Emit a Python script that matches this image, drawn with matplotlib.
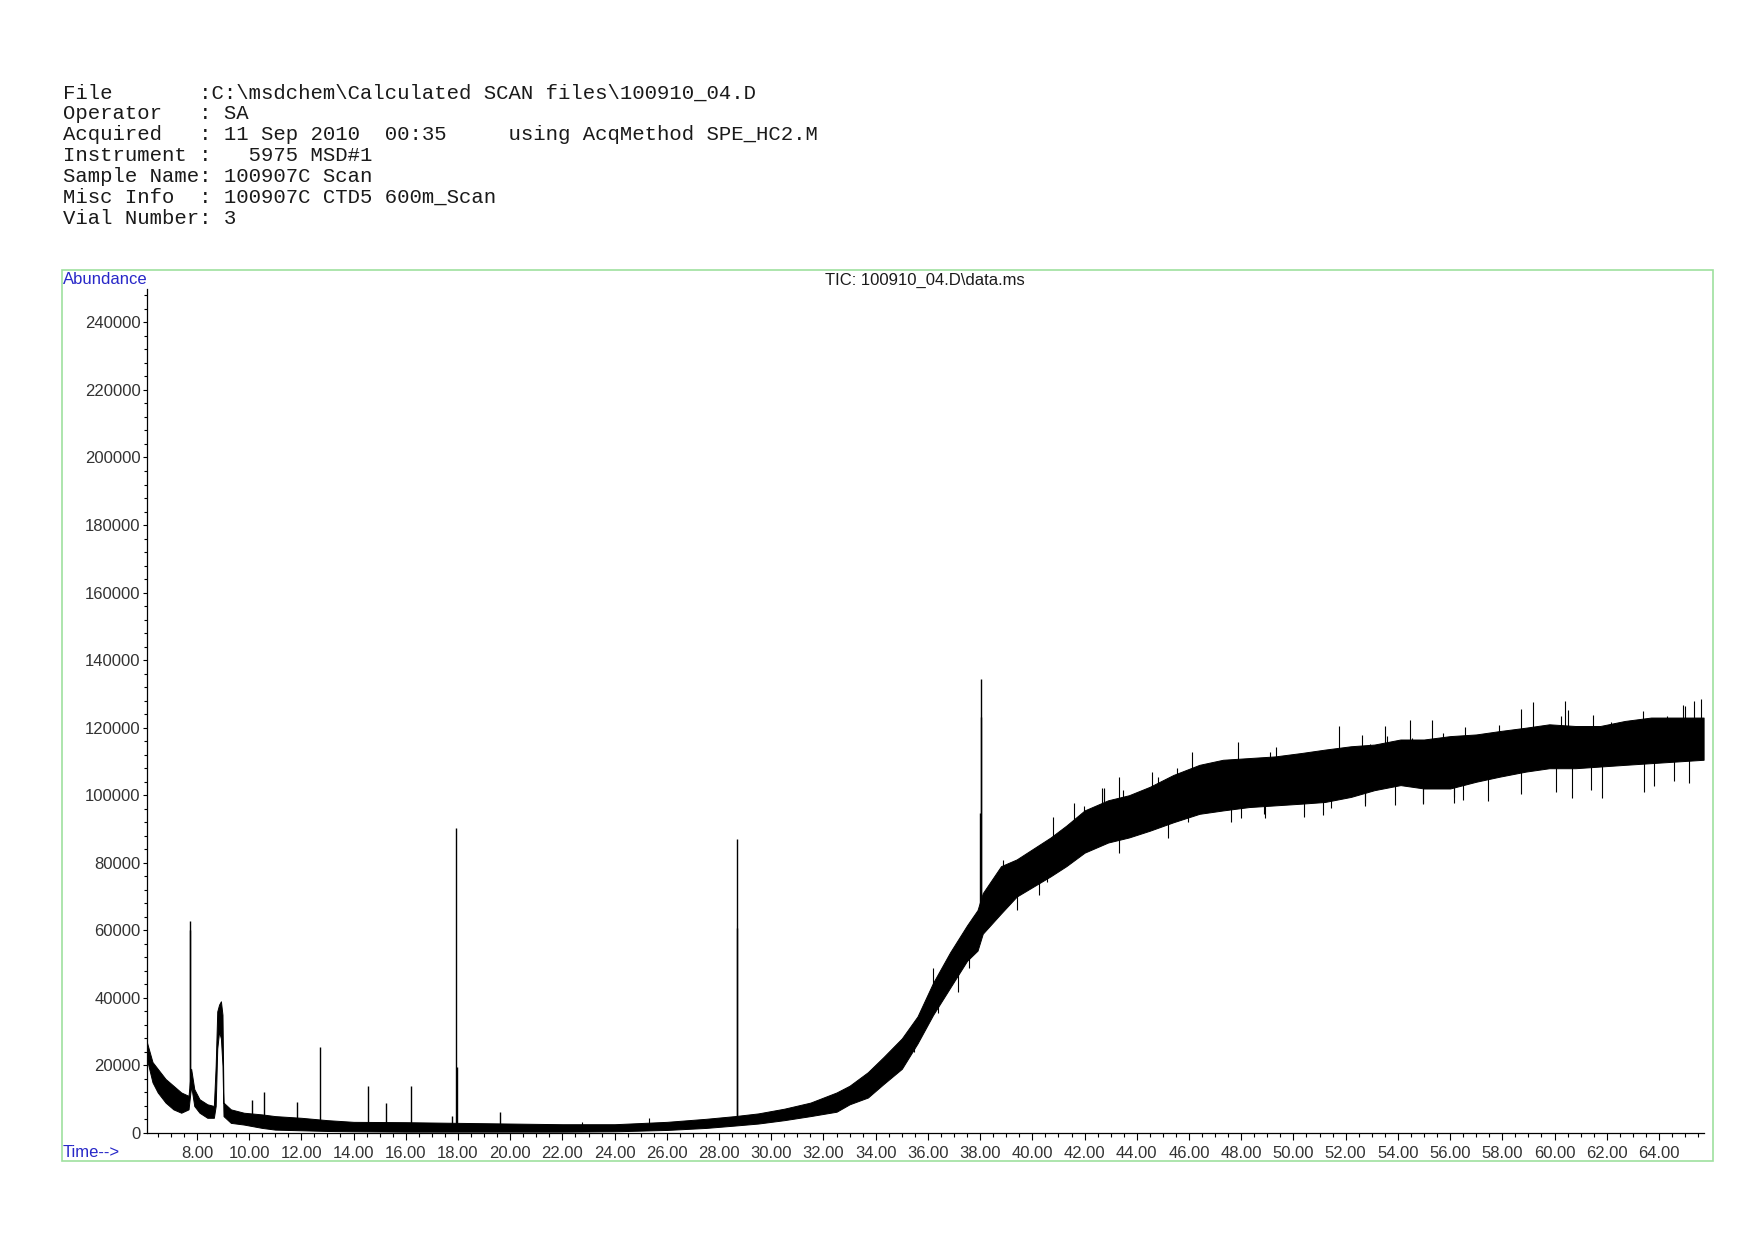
import numpy as np
import matplotlib.pyplot as plt
from matplotlib.patches import Rectangle
from matplotlib.ticker import MultipleLocator, FormatStrFormatter

W, H = 1754, 1240

header_lines = [
    "File       :C:\\msdchem\\Calculated SCAN files\\100910_04.D",
    "Operator   : SA",
    "Acquired   : 11 Sep 2010  00:35     using AcqMethod SPE_HC2.M",
    "Instrument :   5975 MSD#1",
    "Sample Name: 100907C Scan",
    "Misc Info  : 100907C CTD5 600m_Scan",
    "Vial Number: 3",
]
title = "TIC: 100910_04.D\\data.ms"

# noise band of the TIC trace (min, abundance)
env_time = [6.08, 6.3, 6.5, 6.8, 7.1, 7.4, 7.68, 7.78, 7.9, 8.1, 8.4, 8.65,
            8.72, 8.78, 8.85, 8.92, 8.98, 9.02, 9.3, 9.8, 10.5, 11.0, 12.0,
            13.0, 14.0, 16.0, 18.0, 20.0, 22.0, 24.0, 26.0, 27.5, 28.6, 29.5,
            30.5, 31.5, 32.5, 33.0, 33.7, 34.3, 35.0, 35.6, 36.2, 36.85, 37.5,
            37.9, 38.1, 38.8, 39.4, 40.7, 41.3, 42.0, 42.9, 43.7, 44.5, 45.4,
            46.4, 47.3, 48.3, 49.3, 50.3, 51.2, 52.2, 53.1, 54.1, 55.0, 56.0,
            57.0, 57.9, 58.9, 59.8, 60.8, 61.75, 62.7, 63.7, 64.7, 65.71]
env_low = [22000, 15000, 12000, 9000, 7000, 6000, 7000, 14000, 8000, 6000, 4500, 4500,
           8000, 25000, 30000, 28000, 20000, 5000, 3000, 2500, 1500, 1000, 800,
           600, 500, 400, 400, 400, 400, 500, 900, 1500, 2200, 2800,
           3800, 5000, 6300, 8500, 10500, 14500, 19000, 26500, 35000, 43000, 51000,
           54000, 59000, 65000, 70000, 76000, 79000, 83000, 86000, 87500, 89500, 92000,
           94500, 95500, 96500, 97000, 97500, 98000, 99500, 101500, 103000, 102000, 102000,
           104000, 105500, 107000, 108000, 108000, 108500, 109000, 109500, 110000, 110500]
env_high = [27000, 21000, 19000, 16000, 14000, 12000, 11000, 19000, 13000, 10000, 8500, 8000,
            20000, 36000, 38000, 39000, 35000, 9000, 7000, 6000, 5500, 5000, 4500,
            3800, 3300, 3200, 3000, 2800, 2600, 2600, 3300, 4200, 5000, 5800,
            7200, 9000, 12000, 14000, 18000, 22500, 28000, 34500, 44500, 53500, 61500,
            66000, 71000, 79000, 81000, 87500, 91000, 95500, 98500, 100000, 102500, 106000,
            109000, 110500, 111000, 111500, 112500, 113500, 114500, 115000, 116500, 116500, 117500,
            118000, 119000, 120000, 121000, 120500, 120500, 122000, 123000, 123000, 123000]

# resolved peaks (apex time, apex abundance)
peak_time = [7.72, 7.74, 10.12, 10.58, 11.85, 12.73, 14.56, 15.25, 16.19, 17.76,
             17.92, 17.95, 19.61, 28.67, 28.69, 38.00, 38.03, 38.05]
peak_top = [62900, 60000, 9800, 12200, 9300, 25600, 14000, 9000, 14000, 5000,
            90300, 19500, 6300, 60600, 87000, 94800, 134400, 123300]

# single-scan noise spikes outside the band
spike_time = [22.74, 25.31, 30.45, 34.74, 35.47, 35.6, 36.18, 36.38, 36.88, 37.17,
              37.59, 37.74, 38.87, 39.2, 39.4, 40.27, 40.55, 40.78, 41.59, 41.96,
              42.66, 42.75, 42.76, 43.3, 43.3, 43.49, 44.59, 44.83, 45.2, 45.54,
              45.96, 46.11, 47.59, 47.86, 47.99, 48.87, 48.92, 49.09, 49.34, 50.16,
              50.39, 51.13, 51.44, 51.73, 52.62, 52.73, 52.75, 52.95, 53.52, 53.59,
              53.9, 54.45, 54.53, 54.95, 54.96, 55.31, 55.73, 56.14, 56.16, 56.48,
              56.59, 57.45, 57.88, 58.72, 58.73, 59.17, 60.04, 60.23, 60.39, 60.5,
              60.67, 61.38, 61.47, 61.83, 62.16, 63.4, 63.44, 63.8, 64.3, 64.59,
              64.94, 65.01, 65.16, 65.33, 65.6]
spike_value = [3300, 4300, 6000, 22500, 24100, 34100, 48800, 35400, 50600, 41800,
               48800, 63900, 80900, 72200, 66000, 70500, 74400, 93700, 97600, 96700,
               102000, 102100, 101900, 82800, 105300, 101600, 106900, 105500, 87300, 108000,
               92000, 112900, 92000, 115900, 93200, 94300, 93200, 112900, 114400, 110200,
               93700, 94200, 96300, 120400, 117900, 97700, 96700, 115200, 120400, 117500,
               97100, 122300, 116800, 97500, 97700, 122300, 118500, 97700, 99600, 98600,
               120200, 98300, 120800, 125500, 100300, 127500, 101100, 123500, 127800, 125300,
               99100, 101600, 123800, 99300, 121800, 124900, 101000, 102600, 123500, 104100,
               126800, 126500, 103600, 127800, 128500]

plt.rcParams['font.family'] = ['Liberation Sans', 'DejaVu Sans']

fig = plt.figure(figsize=(W / 100, H / 100), dpi=100)

def fx(px):
    return px / W

def fy(py):
    return 1 - py / H

# header block
for i, line in enumerate(header_lines):
    fig.text(fx(62.6), fy(98.4 + 20.9 * i), line, family='Liberation Mono',
             fontsize=14.9, color='#1a1a1a', va='baseline', ha='left')

# green frame
fig.patches.append(Rectangle((fx(61.5), fy(1161)), fx(1712.6) - fx(61.5), fy(269.6) - fy(1161),
                             transform=fig.transFigure, fill=False, edgecolor='#9ee09e', lw=1.2))

ax = fig.add_axes([fx(146.5), fy(1133), fx(1703.6) - fx(146.5), fy(288.6) - fy(1133)])

t = np.array(env_time)
lo = np.array(env_low)
hi = np.array(env_high)
mid = (lo + hi) / 2

ax.fill_between(t, lo, hi, color='black', lw=0.7)
pk_base = np.interp(peak_time, t, mid)
ax.vlines(peak_time, pk_base, peak_top, color='black', lw=1.0)
sp_base = np.interp(spike_time, t, mid)
ax.vlines(spike_time, sp_base, spike_value, color='black', lw=0.8)

ax.set_xlim(6.07, 65.71)
ax.set_ylim(0, 250000)

for s in ['top', 'right']:
    ax.spines[s].set_visible(False)
for s in ['left', 'bottom']:
    ax.spines[s].set_color('black')
    ax.spines[s].set_linewidth(0.9)

ax.set_xticks(np.arange(8, 66, 2))
ax.xaxis.set_minor_locator(MultipleLocator(0.5))
ax.xaxis.set_major_formatter(FormatStrFormatter('%.2f'))
ax.yaxis.set_major_locator(MultipleLocator(20000))
ax.yaxis.set_minor_locator(MultipleLocator(4000))
ax.yaxis.set_major_formatter(FormatStrFormatter('%d'))

ax.tick_params(axis='x', which='major', direction='out', length=5, width=0.8,
               pad=4.5, labelsize=12, labelcolor='#333333')
ax.tick_params(axis='x', which='minor', direction='out', length=3.2, width=0.8)
ax.tick_params(axis='y', which='major', direction='out', length=3, width=0.8,
               pad=1.2, labelsize=12, labelcolor='#333333')
ax.tick_params(axis='y', which='minor', direction='out', length=2, width=0.8)

fig.text(fx(62.6), fy(284), "Abundance", fontsize=12, color='#2828c8', va='baseline')
fig.text(fx(62.6), fy(1156.6), "Time-->", fontsize=12, color='#2828c8', va='baseline')
fig.text(fx(925), fy(285), title, fontsize=12, color='#1a1a1a', va='baseline', ha='center')

fig.savefig("out.png", dpi=100)
